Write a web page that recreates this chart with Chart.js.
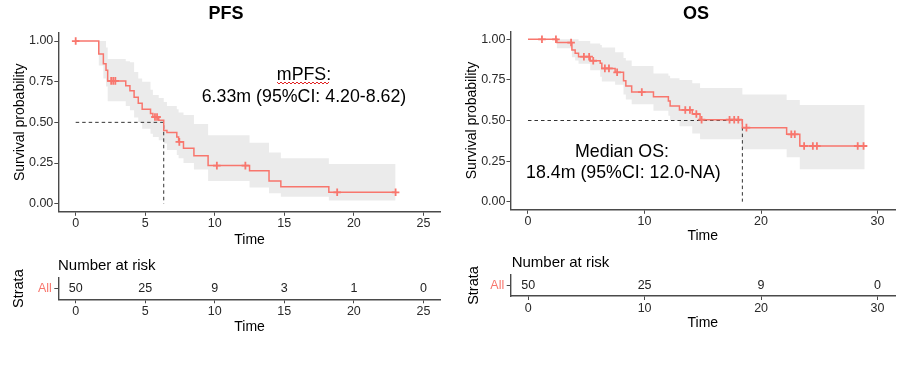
<!DOCTYPE html>
<html><head><meta charset="utf-8">
<script src="https://cdn.jsdelivr.net/npm/chart.js@4.4.0/dist/chart.umd.min.js"></script>
<style>
html,body{margin:0;padding:0;background:#fff;}
#wrap{position:relative;width:924px;height:367px;overflow:hidden;background:#fff;}
canvas{position:absolute;}
</style></head><body>
<div id="wrap">
<canvas id="pfsMain" width="462" height="250" style="left:0;top:0"></canvas>
<canvas id="pfsRisk" width="462" height="100" style="left:0;top:250px"></canvas>
<canvas id="osMain" width="462" height="250" style="left:462px;top:0"></canvas>
<canvas id="osRisk" width="462" height="100" style="left:462px;top:250px"></canvas>
</div>
<script>
const FONT = "'Liberation Sans', Arial, Helvetica, sans-serif";
const RED = '#F8766D';
const BAND = 'rgba(235,235,235,1)';
const AXIS = '#4a4a4a';
const TICKTXT = '#2a2a2a';

// ---------- PFS ----------
const pfsTime  = [0, 1.66, 1.99, 2.18, 2.3, 3.6, 3.9, 4.2, 4.5, 4.78, 5.38, 5.55, 5.97, 6.33, 6.56, 7.27, 7.4, 7.75, 8.5, 9.52, 12.5, 13.9, 14.75, 18.2, 23.0];
const pfsSurv  = [1, 0.92, 0.86, 0.82, 0.755, 0.725, 0.695, 0.655, 0.617, 0.58, 0.555, 0.533, 0.513, 0.45, 0.437, 0.41, 0.38, 0.34, 0.295, 0.234, 0.203, 0.14, 0.104, 0.07, 0.07];
const pfsUpper = [1, 1.0, 1.0, 0.96, 0.89, 0.875, 0.87, 0.81, 0.77, 0.75, 0.70, 0.668, 0.65, 0.625, 0.60, 0.58, 0.56, 0.545, 0.49, 0.42, 0.375, 0.314, 0.28, 0.244, 0.244];
const pfsLower = [1, 0.85, 0.77, 0.72, 0.63, 0.60, 0.575, 0.53, 0.50, 0.46, 0.43, 0.41, 0.39, 0.37, 0.33, 0.30, 0.28, 0.25, 0.21, 0.14, 0.10, 0.064, 0.043, 0.019, 0.019];
const pfsCensorTime = [0, 2.55, 2.7, 2.85, 5.7, 5.85, 7.45, 10.15, 12.2, 18.8, 23.0];
const pfsCensorSurv = [1, 0.755, 0.755, 0.755, 0.533, 0.533, 0.38, 0.234, 0.234, 0.07, 0.07];
const pfsMedian = 6.33;
const pfsXTicks = [0, 5, 10, 15, 20, 25];
const pfsRiskTime = [0, 5, 10, 15, 20, 25];
const pfsRisk = [50, 25, 9, 3, 1, 0];

// ---------- OS ----------
const osTime  = [0, 2.48, 3.77, 4.05, 4.34, 5.34, 6.2, 6.34, 7.48, 8.2, 8.4, 8.9, 10.77, 12.05, 12.2, 13.0, 14.1, 14.77, 18.4, 22.2, 23.33, 28.9, 29.0];
const osSurv  = [1, 0.98, 0.934, 0.914, 0.893, 0.868, 0.852, 0.821, 0.797, 0.745, 0.713, 0.675, 0.647, 0.62, 0.59, 0.565, 0.54, 0.505, 0.456, 0.415, 0.343, 0.343, 0.343];
const osUpper = [1, 1.0, 1.0, 1.0, 0.99, 0.975, 0.965, 0.95, 0.92, 0.885, 0.87, 0.835, 0.79, 0.775, 0.76, 0.75, 0.73, 0.70, 0.66, 0.626, 0.595, 0.595, null];
const osLower = [1, 0.945, 0.89, 0.87, 0.85, 0.81, 0.77, 0.74, 0.72, 0.66, 0.63, 0.60, 0.56, 0.53, 0.50, 0.465, 0.42, 0.385, 0.323, 0.273, 0.20, 0.20, null];
const osCensorTime = [1.2, 2.4, 3.7, 4.8, 5.25, 5.6, 6.6, 6.95, 7.65, 9.77, 13.5, 13.9, 14.45, 14.9, 17.3, 17.7, 18.05, 18.75, 22.6, 22.9, 23.7, 24.45, 24.8, 28.3, 28.8];
const osCensorSurv = [1, 1, 0.98, 0.893, 0.893, 0.868, 0.821, 0.821, 0.797, 0.675, 0.565, 0.565, 0.54, 0.505, 0.505, 0.505, 0.505, 0.456, 0.415, 0.415, 0.343, 0.343, 0.343, 0.343, 0.343];
const osMedian = 18.4;
const osXTicks = [0, 10, 20, 30];
const osRiskTime = [0, 10, 20, 30];
const osRisk = [50, 25, 9, 0];

const survTicks = [0, 0.25, 0.5, 0.75, 1];

Chart.defaults.font.family = FONT;
Chart.defaults.animation = false;

const pts = (xs, ys) => xs.map((x, i) => ({x: x, y: ys[i]})).filter(p => p.y !== null);

const textPlugin = {
  id: 'freeText',
  afterDraw(chart, args, opts) {
    const ctx = chart.ctx;
    (opts.items || []).forEach(it => {
      ctx.save();
      ctx.font = (it.weight || 'normal') + ' ' + it.size + 'px ' + FONT;
      ctx.fillStyle = it.color || '#000';
      ctx.textAlign = it.align || 'center';
      ctx.textBaseline = 'alphabetic';
      ctx.fillText(it.text, it.x, it.y);
      ctx.restore();
    });
    if (opts.squiggle) {
      const s = opts.squiggle;
      ctx.save();
      ctx.strokeStyle = '#E02020';
      ctx.lineWidth = 1;
      ctx.beginPath();
      let up = true;
      for (let x = s.x0; x <= s.x1; x += 2) {
        const y = s.y + (up ? -1 : 1);
        if (x === s.x0) ctx.moveTo(x, y); else ctx.lineTo(x, y);
        up = !up;
      }
      ctx.stroke();
      ctx.restore();
    }
  }
};

const riskPlugin = {
  id: 'riskText',
  afterDatasetsDraw(chart, args, opts) {
    const meta = chart.getDatasetMeta(0);
    const ctx = chart.ctx;
    ctx.save();
    ctx.font = '12.5px ' + FONT;
    ctx.fillStyle = '#222';
    ctx.textAlign = 'center';
    ctx.textBaseline = 'middle';
    meta.data.forEach((el, i) => ctx.fillText(String(opts.values[i]), el.x, el.y));
    ctx.restore();
  }
};

function xScale(c) {
  return {
    type: 'linear', min: c.xmin, max: c.xmax,
    afterBuildTicks: s => { s.ticks = c.xticks.map(v => ({value: v})); },
    afterFit: s => { s.height = c.xHeight; },
    ticks: {color: TICKTXT, font: {size: 12.5}, padding: c.xTickPad, maxRotation: 0, autoSkip: false},
    grid: {display: true, drawOnChartArea: false, drawTicks: true, tickLength: 4, tickColor: AXIS, tickWidth: 1},
    border: {display: true, color: AXIS, width: 1.4},
    title: {display: true, text: 'Time', color: '#000', font: {size: 14}, padding: {top: 0, bottom: c.xTitlePad}}
  };
}

function kmChart(id, c) {
  return new Chart(document.getElementById(id), {
    type: 'line',
    data: {datasets: [
      {data: pts(c.time, c.upper), stepped: true, borderColor: 'rgba(0,0,0,0)', borderWidth: 1, pointRadius: 0, fill: false, order: 5},
      {data: pts(c.time, c.lower), stepped: true, borderColor: 'rgba(0,0,0,0)', borderWidth: 1, pointRadius: 0, fill: '-1', backgroundColor: BAND, order: 5},
      {data: pts(c.time, c.surv), stepped: true, borderColor: RED, borderWidth: 1.5, pointRadius: 0, fill: false, order: 2},
      {data: pts(c.censorTime, c.censorSurv), showLine: false, pointStyle: 'cross', pointRadius: 3.8, pointBorderWidth: 1.8, pointBorderColor: RED, pointBackgroundColor: RED, order: 1},
      {data: [{x: 0, y: 0.5}, {x: c.median, y: 0.5}, {x: c.median, y: 0}], borderColor: '#333', borderWidth: 1, borderDash: [3.5, 3], pointRadius: 0, fill: false, order: 3}
    ]},
    options: {
      responsive: false, maintainAspectRatio: false, animation: false,
      layout: {padding: {left: 0, top: c.padTop, right: c.padRight, bottom: 0}},
      plugins: {legend: {display: false}, tooltip: {enabled: false}, freeText: {items: c.texts, squiggle: c.squiggle}},
      scales: {
        x: xScale(c),
        y: {
          type: 'linear', min: -0.05, max: 1.05,
          afterBuildTicks: s => { s.ticks = survTicks.map(v => ({value: v})); },
          afterFit: s => { s.width = c.yWidth; },
          ticks: {color: TICKTXT, font: {size: 12.5}, padding: 1, callback: v => Number(v).toFixed(2)},
          grid: {display: true, drawOnChartArea: false, drawTicks: true, tickLength: 4, tickColor: AXIS, tickWidth: 1},
          border: {display: true, color: AXIS, width: 1.4},
          title: {display: true, text: 'Survival probability', color: '#000', font: {size: 14}, padding: {top: c.yTitlePad, bottom: 0}}
        }
      }
    },
    plugins: [textPlugin]
  });
}

function riskChart(id, c) {
  return new Chart(document.getElementById(id), {
    type: 'line',
    data: {datasets: [
      {data: c.riskTime.map(t => ({x: t, y: 0.5})), showLine: false, pointRadius: 0}
    ]},
    options: {
      responsive: false, maintainAspectRatio: false, animation: false,
      layout: {padding: {left: 0, top: c.padTop, right: c.padRight, bottom: 0}},
      plugins: {legend: {display: false}, tooltip: {enabled: false}, riskText: {values: c.risk}, freeText: {items: c.texts}},
      scales: {
        x: xScale(c),
        y: {
          type: 'linear', min: 0, max: 1,
          afterBuildTicks: s => { s.ticks = [{value: 0.5}]; },
          afterFit: s => { s.width = c.yWidth; },
          ticks: {color: RED, font: {size: 12.5}, padding: 2.5, callback: () => 'All'},
          grid: {display: true, drawOnChartArea: false, drawTicks: true, tickLength: 4, tickColor: AXIS, tickWidth: 1},
          border: {display: true, color: AXIS, width: 1.4},
          title: {display: true, text: 'Strata', color: '#000', font: {size: 14.5}, padding: {top: c.yTitlePad, bottom: 0}}
        }
      }
    },
    plugins: [riskPlugin, textPlugin]
  });
}

kmChart('pfsMain', {
  time: pfsTime, surv: pfsSurv, upper: pfsUpper, lower: pfsLower,
  censorTime: pfsCensorTime, censorSurv: pfsCensorSurv, median: pfsMedian,
  xmin: -1.25, xmax: 26.25, xticks: pfsXTicks,
  padTop: 32.9, padRight: 21.2, yWidth: 58.3, xHeight: 38.2, xTickPad: 0.5, xTitlePad: 1.6, yTitlePad: 11.6,
  texts: [
    {text: 'PFS', x: 226, y: 19, size: 18, weight: 'bold'},
    {text: 'mPFS:', x: 304, y: 80, size: 17.8},
    {text: '6.33m (95%CI: 4.20-8.62)', x: 304, y: 101.5, size: 17.8}
  ],
  squiggle: {x0: 277, x1: 330, y: 83}
});

riskChart('pfsRisk', {
  riskTime: pfsRiskTime, risk: pfsRisk,
  xmin: -1.25, xmax: 26.25, xticks: pfsXTicks,
  padTop: 28, padRight: 21.2, yWidth: 58.3, xHeight: 50.7, xTickPad: 1, xTitlePad: 14.3, yTitlePad: 9.9,
  texts: [{text: 'Number at risk', x: 58, y: 20, size: 15, align: 'left'}]
});

kmChart('osMain', {
  time: osTime, surv: osSurv, upper: osUpper, lower: osLower,
  censorTime: osCensorTime, censorSurv: osCensorSurv, median: osMedian,
  xmin: -1.5, xmax: 31.5, xticks: osXTicks,
  padTop: 31.2, padRight: 29, yWidth: 48.5, xHeight: 40.2, xTickPad: 0, xTitlePad: 5.6, yTitlePad: 2.1,
  texts: [
    {text: 'OS', x: 234, y: 19, size: 18, weight: 'bold'},
    {text: 'Median OS:', x: 160, y: 157.3, size: 17.8},
    {text: '18.4m (95%CI: 12.0-NA)', x: 161.4, y: 178.3, size: 17.8}
  ]
});

riskChart('osRisk', {
  riskTime: osRiskTime, risk: osRisk,
  xmin: -1.5, xmax: 31.5, xticks: osXTicks,
  padTop: 25, padRight: 29, yWidth: 48.7, xHeight: 54, xTickPad: 0.8, xTitlePad: 18.9, yTitlePad: 2.9,
  texts: [{text: 'Number at risk', x: 49.7, y: 16.7, size: 15, align: 'left'}]
});
</script>
</body></html>
